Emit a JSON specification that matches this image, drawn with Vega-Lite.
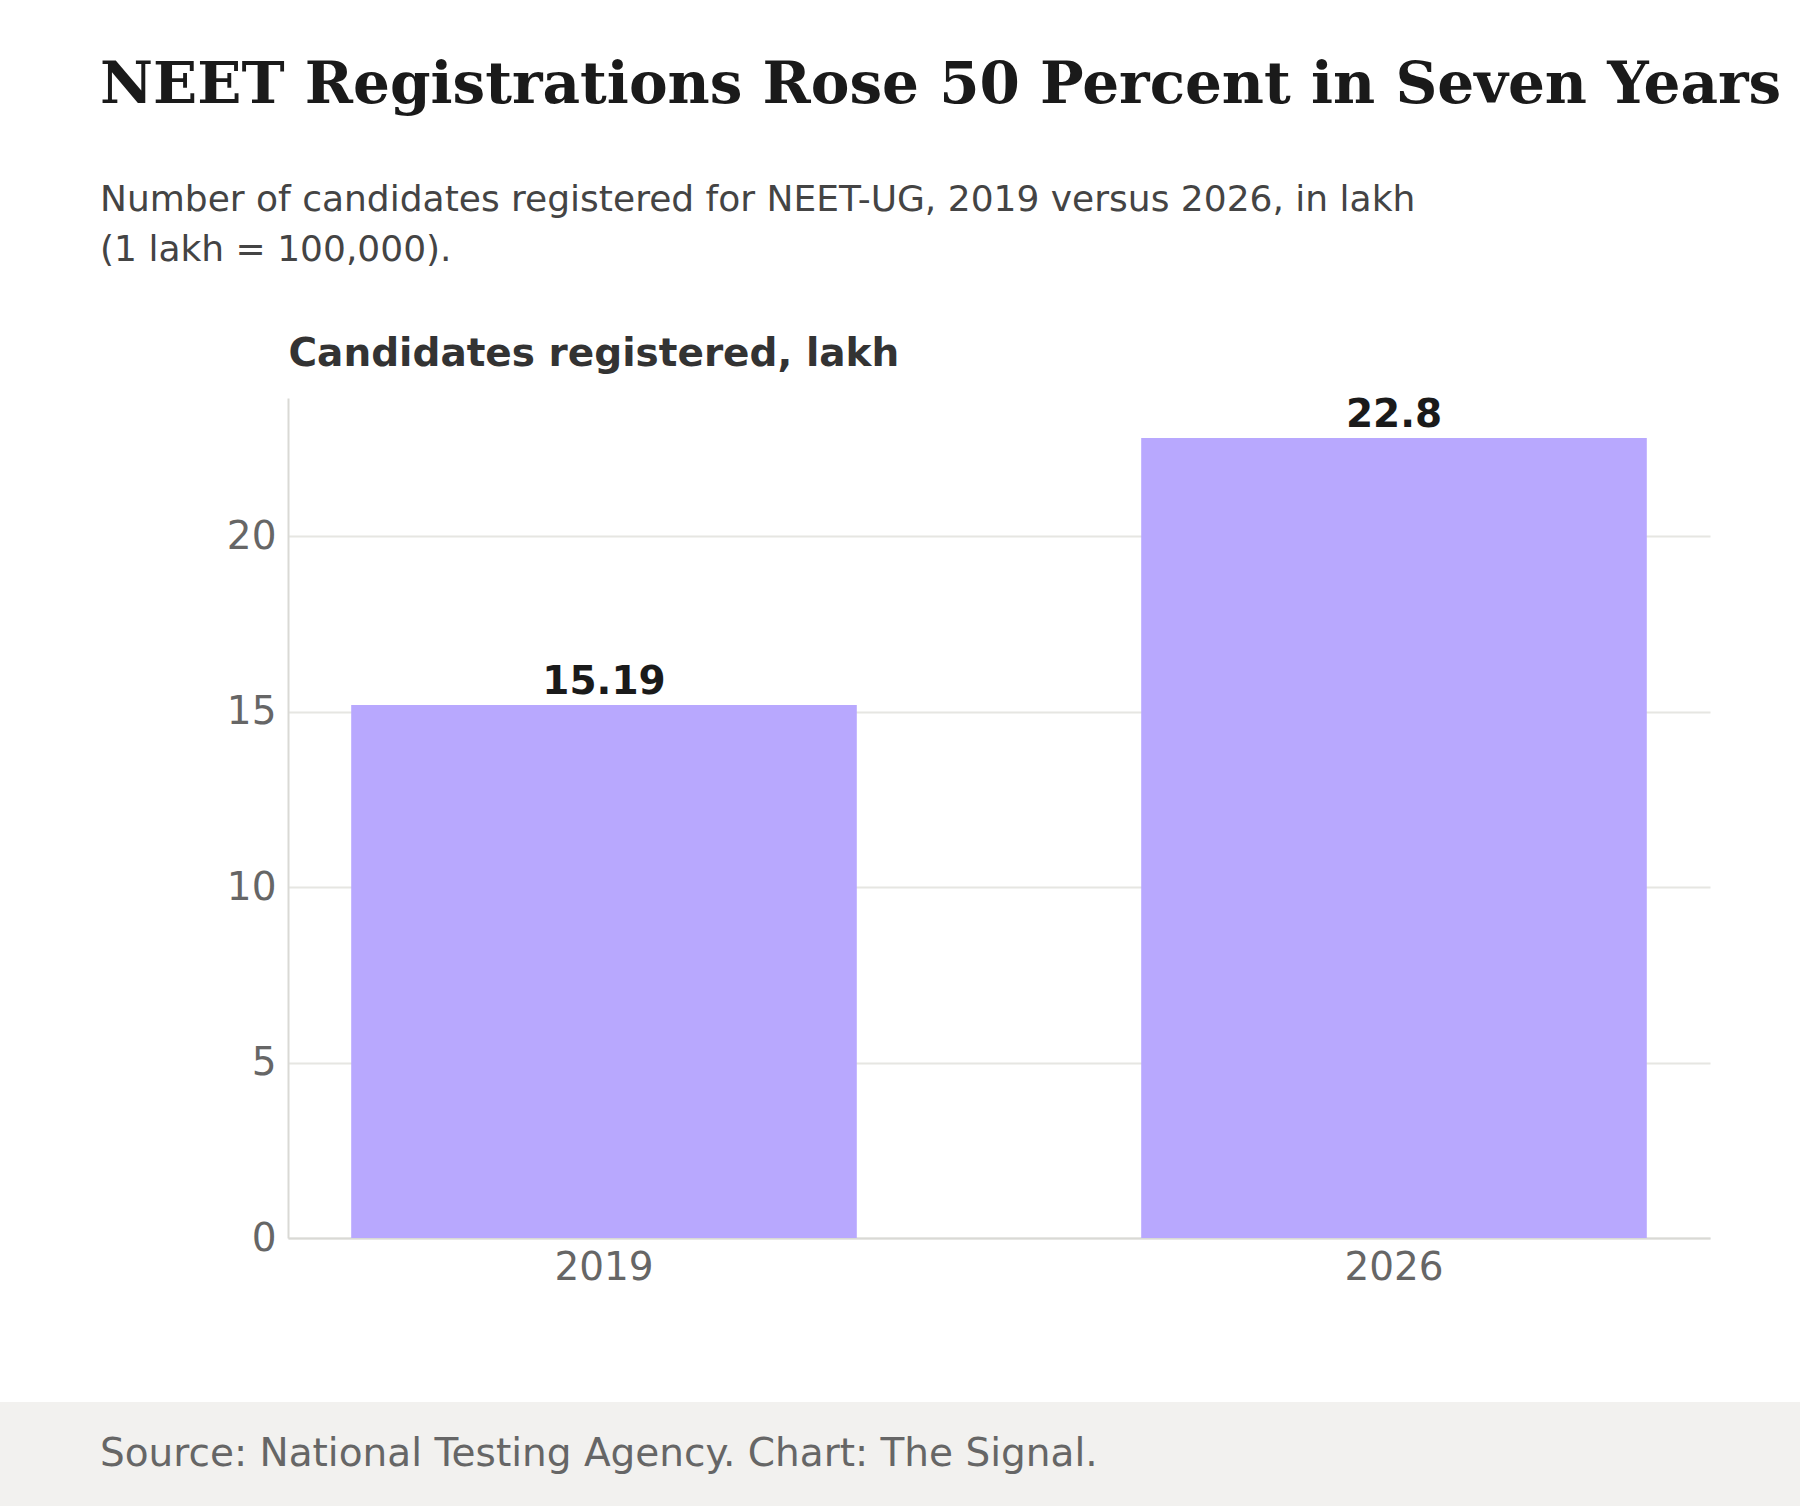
{
  "$schema": "https://vega.github.io/schema/vega-lite/v6.json",
  "background": "white",
  "padding": {"left": 0, "right": 0, "top": 57, "bottom": 0},
  "autosize": {"type": "pad"},
  "spacing": 0,
  "title": {
    "text": "NEET Registrations Rose 50 Percent in Seven Years",
    "subtitle": ["Number of candidates registered for NEET-UG, 2019 versus 2026, in lakh", "(1 lakh = 100,000)."],
    "anchor": "start",
    "frame": "group",
    "dx": -188,
    "font": "DejaVu Serif",
    "fontSize": 58,
    "fontWeight": "bold",
    "color": "#1a1a1a",
    "subtitleFont": "DejaVu Sans",
    "subtitleFontSize": 36,
    "subtitleColor": "#444444",
    "subtitleLineHeight": 50,
    "subtitlePadding": 68,
    "offset": 66
  },
  "vconcat": [
    {
      "width": 1422,
      "height": 840,
      "data": {"values": [{"year": "2019", "lakh": 15.19, "label": "15.19"}, {"year": "2026", "lakh": 22.8, "label": "22.8"}]},
      "encoding": {
        "x": {
          "field": "year", "type": "nominal",
          "scale": {"paddingInner": 0.36, "paddingOuter": 0.08},
          "axis": {"title": null, "labelAngle": 0, "ticks": false, "labelFontSize": 39, "labelColor": "#666666", "labelPadding": 10, "domain": true, "domainColor": "#d9d9d5", "domainWidth": 2, "grid": false, "minExtent": 164, "maxExtent": 164}
        },
        "y": {
          "field": "lakh", "type": "quantitative",
          "scale": {"domain": [0, 23.94], "nice": false},
          "axis": {"values": [0, 5, 10, 15, 20], "title": "Candidates registered, lakh", "titleAngle": 0, "titleAlign": "left", "titleBaseline": "alphabetic", "titleX": 0, "titleY": -33, "titleFontSize": 39, "titleFontWeight": "bold", "titleColor": "#333333", "ticks": false, "labelFontSize": 39, "labelColor": "#666666", "labelPadding": 12, "domain": true, "domainColor": "#d9d9d5", "domainWidth": 2, "grid": true, "gridColor": "#e6e6e2", "gridWidth": 2, "minExtent": 288, "maxExtent": 288}
        }
      },
      "layer": [
        {"mark": {"type": "bar", "color": "#b8a8fe"}},
        {"mark": {"type": "text", "baseline": "alphabetic", "dy": -11, "fontSize": 39, "fontWeight": "bold", "color": "#1a1a1a"}, "encoding": {"text": {"field": "label", "type": "nominal"}}}
      ]
    },
    {
      "width": 1512,
      "height": 104,
      "data": {"values": [{"source": "National Testing Agency"}]},
      "mark": {"type": "rect", "color": "#f2f1ef", "xOffset": -288},
      "encoding": {"x": {"value": 0}, "x2": {"value": "width"}},
      "title": {
        "text": "Source: National Testing Agency. Chart: The Signal.",
        "orient": "bottom",
        "anchor": "start",
        "frame": "group",
        "dx": -188,
        "offset": -40,
        "baseline": "alphabetic",
        "font": "DejaVu Sans",
        "fontSize": 39,
        "fontWeight": "normal",
        "color": "#666666"
      }
    }
  ],
  "config": {
    "font": "DejaVu Sans",
    "view": {"stroke": null},
    "concat": {"spacing": 0}
  }
}
